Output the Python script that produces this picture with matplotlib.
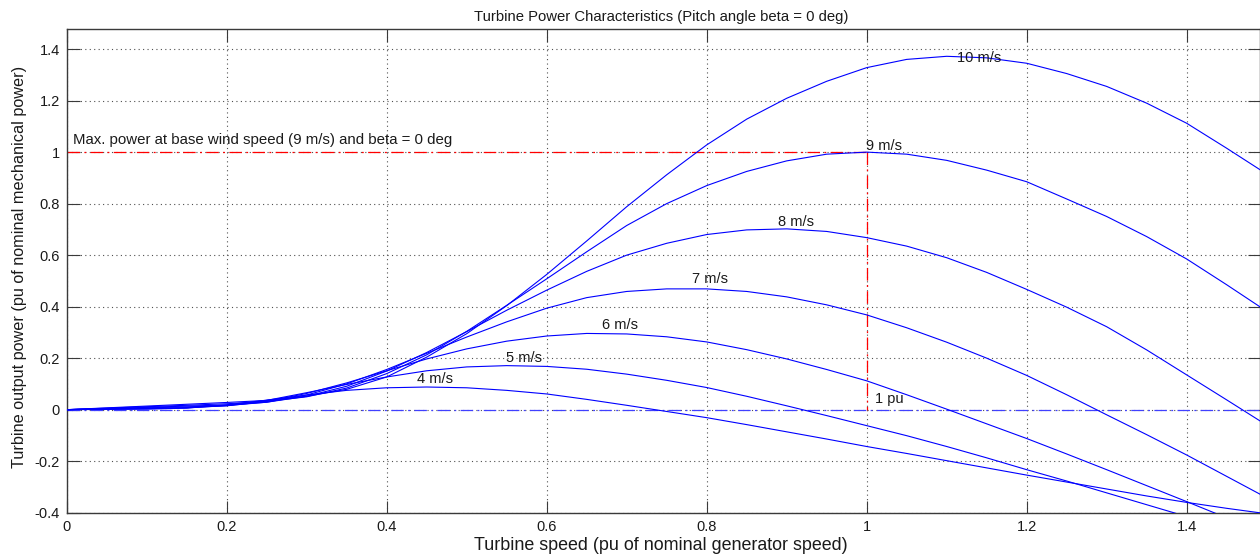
import matplotlib
matplotlib.use("Agg")
import matplotlib.pyplot as plt

plt.rcParams['font.family'] = ['Liberation Sans', 'DejaVu Sans']

# Turbine speed (pu of nominal generator speed)
speed = [0.00, 0.05, 0.10, 0.15, 0.20, 0.25, 0.30, 0.35, 0.40, 0.45,
         0.50, 0.55, 0.60, 0.65, 0.70, 0.75, 0.80, 0.85, 0.90, 0.95,
         1.00, 1.05, 1.10, 1.15, 1.20, 1.25, 1.30, 1.35, 1.40, 1.45, 1.50]

# Turbine output power (pu) for each wind speed
p_4 = [0.000, 0.001, 0.002, 0.006, 0.019, 0.037, 0.057, 0.075, 0.085, 0.088,
       0.085, 0.075, 0.061, 0.040, 0.017, -0.007, -0.031, -0.058, -0.086, -0.114,
       -0.143, -0.170, -0.198, -0.226, -0.254, -0.281, -0.308, -0.335, -0.360, -0.383, -0.404]
p_5 = [0.000, 0.002, 0.004, 0.007, 0.016, 0.036, 0.066, 0.098, 0.127, 0.151,
       0.166, 0.171, 0.168, 0.157, 0.138, 0.114, 0.086, 0.052, 0.015, -0.023,
       -0.062, -0.101, -0.143, -0.187, -0.233, -0.277, -0.323, -0.369, -0.415, -0.460, -0.505]
p_6 = [0.000, 0.003, 0.005, 0.008, 0.015, 0.032, 0.063, 0.104, 0.151, 0.197,
       0.236, 0.266, 0.286, 0.296, 0.294, 0.283, 0.263, 0.233, 0.197, 0.156,
       0.112, 0.058, 0.002, -0.055, -0.112, -0.172, -0.233, -0.295, -0.357, -0.420, -0.480]
p_7 = [0.000, 0.004, 0.007, 0.011, 0.016, 0.029, 0.057, 0.100, 0.156, 0.219,
       0.282, 0.341, 0.394, 0.435, 0.459, 0.469, 0.469, 0.459, 0.438, 0.407,
       0.368, 0.318, 0.262, 0.200, 0.133, 0.058, -0.020, -0.097, -0.176, -0.259, -0.342]
p_8 = [0.000, 0.0045, 0.009, 0.014, 0.018, 0.029, 0.052, 0.091, 0.150, 0.222,
       0.303, 0.386, 0.464, 0.537, 0.600, 0.646, 0.680, 0.698, 0.702, 0.692,
       0.668, 0.635, 0.590, 0.533, 0.467, 0.398, 0.322, 0.232, 0.135, 0.038, -0.060]
p_9 = [0.000, 0.006, 0.0115, 0.017, 0.023, 0.032, 0.050, 0.084, 0.140, 0.213,
       0.304, 0.405, 0.508, 0.613, 0.715, 0.800, 0.870, 0.925, 0.966, 0.992,
       1.000, 0.992, 0.968, 0.930, 0.885, 0.818, 0.750, 0.672, 0.585, 0.485, 0.382]
p_10 = [0.000, 0.007, 0.014, 0.021, 0.028, 0.036, 0.052, 0.079, 0.127, 0.204,
        0.295, 0.404, 0.525, 0.655, 0.788, 0.912, 1.028, 1.128, 1.209, 1.275,
        1.328, 1.360, 1.372, 1.366, 1.345, 1.305, 1.255, 1.190, 1.112, 1.015, 0.915]

curves = [p_4, p_5, p_6, p_7, p_8, p_9, p_10]
wind_labels = ['4 m/s', '5 m/s', '6 m/s', '7 m/s', '8 m/s', '9 m/s', '10 m/s']
label_xy = [(0.438, 0.104), (0.549, 0.185), (0.669, 0.312), (0.781, 0.491),
            (0.889, 0.713), (0.999, 1.008), (1.1125, 1.351)]

x_ticks = [0, 0.2, 0.4, 0.6, 0.8, 1.0, 1.2, 1.4]
x_tick_labels = ['0', '0.2', '0.4', '0.6', '0.8', '1', '1.2', '1.4']
y_ticks = [-0.4, -0.2, 0, 0.2, 0.4, 0.6, 0.8, 1.0, 1.2, 1.4]
y_tick_labels = ['-0.4', '-0.2', '0', '0.2', '0.4', '0.6', '0.8', '1', '1.2', '1.4']

W, H = 1260, 558
fig = plt.figure(figsize=(W / 100, H / 100), dpi=100)
fig.patch.set_facecolor('white')
ax = fig.add_axes([66.7 / W, (H - 512.7) / H, (1259.5 - 66.7) / W, (512.7 - 29) / H])

text_col = '#1a1a1a'
axis_col = '#3a3a3a'
dashdot = (0, (10, 3.5, 1.5, 3.5))

for p in curves:
    ax.plot(speed, p, color='#0000ff', linewidth=0.8, solid_joinstyle='round', zorder=3)

# zero-power reference and rated-point markers
ax.plot([0, 1.5], [0, 0], color='#4040ff', linewidth=0.9, linestyle=dashdot, zorder=2)
ax.plot([0, 1.0], [1.0, 1.0], color='#ff0000', linewidth=0.9, linestyle=dashdot, zorder=2)
ax.plot([1.0, 1.0], [1.0, 0.0], color='#ff0000', linewidth=0.9, linestyle=dashdot, zorder=2)

for lab, (lx, ly) in zip(wind_labels, label_xy):
    ax.text(lx, ly, lab, fontsize=10.5, color=text_col, ha='left', va='baseline', zorder=4)
ax.text(1.0104, 0.027, '1 pu', fontsize=10.5, color=text_col, ha='left', va='baseline')
ax.text(0.008, 1.031, 'Max. power at base wind speed (9 m/s) and beta = 0 deg',
        fontsize=10.8, color=text_col, ha='left', va='baseline')

ax.set_xlim(0, 1.491)
ax.set_ylim(-0.4, 1.478)
ax.set_xticks(x_ticks)
ax.set_xticklabels(x_tick_labels)
ax.set_yticks(y_ticks)
ax.set_yticklabels(y_tick_labels)
ax.tick_params(direction='in', length=9, width=0.8, top=True, right=True,
               labelsize=10.5, labelcolor=text_col, color=axis_col, pad=5)
ax.grid(True, linestyle=(0, (1, 3)), color='#505050', linewidth=0.8)
for s in ax.spines.values():
    s.set_color(axis_col)
    s.set_linewidth(1.0)

fig.text(661 / W, 1 - 21 / H, 'Turbine Power Characteristics (Pitch angle beta = 0 deg)',
         fontsize=10.7, color=text_col, ha='center', va='baseline')
fig.text(661 / W, 1 - 550 / H, 'Turbine speed (pu of nominal generator speed)',
         fontsize=12.9, color=text_col, ha='center', va='baseline')
fig.text(19.5 / W, 1 - 266.5 / H, 'Turbine output power (pu of nominal mechanical power)',
         fontsize=11.7, color=text_col, ha='center', va='center', rotation=90)

fig.savefig('out.png', dpi=100)
